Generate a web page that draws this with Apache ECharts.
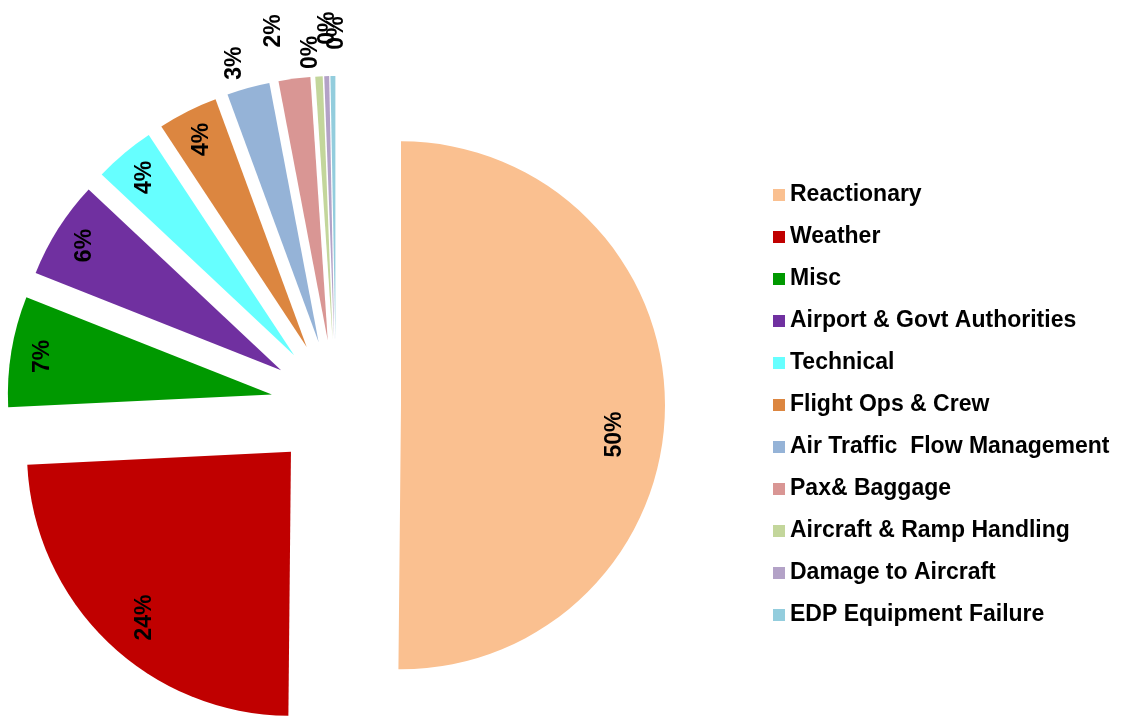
<!DOCTYPE html>
<html>
<head>
<meta charset="utf-8">
<script src="https://cdn.jsdelivr.net/npm/echarts@6/dist/echarts.min.js"></script>
<style>
html,body{margin:0;padding:0;background:#fff;}
#chart{width:1122px;height:717px;}
</style>
</head>
<body>
<div id="chart"></div>
<script>
// ---- data ----
const categories = [
  'Reactionary', 'Weather', 'Misc', 'Airport & Govt Authorities', 'Technical',
  'Flight Ops & Crew', 'Air Traffic  Flow Management', 'Pax& Baggage',
  'Aircraft & Ramp Handling', 'Damage to Aircraft', 'EDP Equipment Failure'
];
const values = [50.15, 24.06, 6.78, 6.0, 3.72, 3.67, 2.62, 1.94, 0.45, 0.3, 0.3];
const colors = ['#FAC090', '#C00000', '#009900', '#7030A0', '#66FFFF',
  '#DC8640', '#95B3D7', '#D99694', '#C3D69B', '#B3A2C7', '#93CDDD'];

// ---- build ----
const total = values.reduce((a, b) => a + b, 0);
const pct = v => Math.round(v / total * 100);
const FONT = '"Liberation Sans", Arial, sans-serif';
const CX = 336, CY = 405, R = 264, OFFSET = 65;
// label nudges on screen (mimic Excel's best-fit label placement), in px
const labelNudge = {
  'Reactionary': [-19, 28],
  'Weather': [15, -2],
  'Air Traffic  Flow Management': [-4, 9],
  'Pax& Baggage': [-16, -13],
  'Aircraft & Ramp Handling': [-6, 11],
  'Damage to Aircraft': [2, -13],
  'EDP Equipment Failure': [4, -8]
};

function makeData(kind) {
  return categories.map((name, i) => {
    const inside = pct(values[i]) > 3;
    const show = kind === 'main' ? false : (kind === 'inner' ? inside : !inside);
    return {
      name, value: values[i], selected: true,
      itemStyle: { color: kind === 'main' ? colors[i] : 'rgba(0,0,0,0)' },
      label: { show }
    };
  });
}

const labelStyle = {
  position: 'inside',
  rotate: 90,
  fontFamily: FONT,
  fontWeight: 'bold',
  fontSize: 23,
  color: '#000',
  formatter: p => pct(p.value) + '%'
};

// labels are rotated 90°, so the layout offset is given in the rotated frame
const nudgeLayout = p => {
  const n = labelNudge[categories[p.dataIndex]];
  return n ? { dx: -n[1], dy: n[0], hideOverlap: false } : { hideOverlap: false };
};

const baseSeries = {
  type: 'pie',
  center: [CX, CY],
  startAngle: 90,
  clockwise: true,
  selectedMode: 'multiple',
  selectedOffset: OFFSET,
  avoidLabelOverlap: false,
  animation: false,
  labelLine: { show: false },
  itemStyle: { borderWidth: 0 },
  emphasis: { disabled: true },
  select: { itemStyle: { borderWidth: 0 } }
};

const option = {
  backgroundColor: '#fff',
  animation: false,
  legend: {
    orient: 'vertical',
    left: 773,
    top: 183,
    padding: 0,
    itemWidth: 12,
    itemHeight: 12,
    itemGap: 18,
    icon: 'rect',
    selectedMode: false,
    data: categories.map((n, i) => ({ name: n, itemStyle: { color: colors[i] } })),
    textStyle: { fontFamily: FONT, fontWeight: 'bold', fontSize: 23, lineHeight: 24, color: '#000' }
  },
  series: [
    Object.assign({}, baseSeries, {
      name: 'main',
      radius: [0, R],
      label: { show: false },
      data: makeData('main')
    }),
    Object.assign({}, baseSeries, {
      name: 'inner',
      silent: true,
      radius: [R * 0.78, R * 0.96],
      label: labelStyle,
      labelLayout: nudgeLayout,
      data: makeData('inner')
    }),
    Object.assign({}, baseSeries, {
      name: 'outer',
      silent: true,
      radius: [R + 12, R + 52],
      label: labelStyle,
      labelLayout: nudgeLayout,
      data: makeData('outer')
    })
  ]
};

const chart = echarts.init(document.getElementById('chart'), null, { renderer: 'canvas' });
chart.setOption(option);
</script>
</body>
</html>
